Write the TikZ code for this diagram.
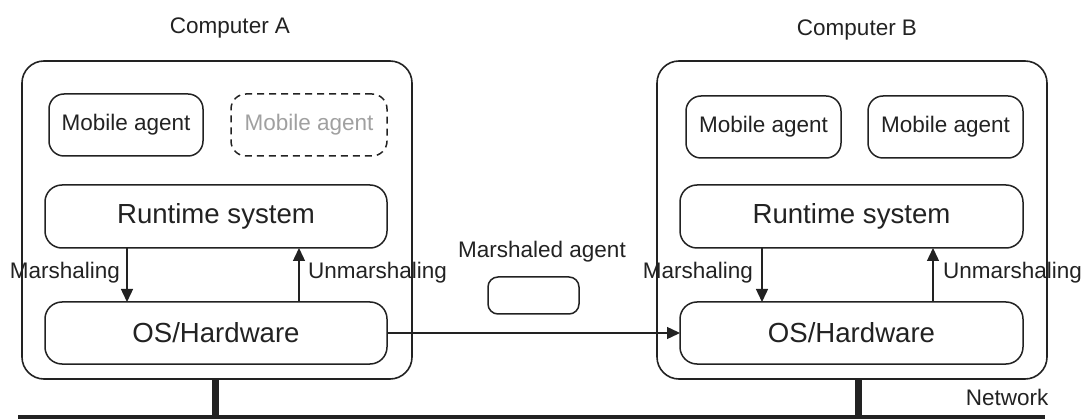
\documentclass[tikz,border=0pt]{standalone}
\usepackage{fontspec}
\setmainfont{Liberation Sans}
\usetikzlibrary{arrows.meta}
\definecolor{ink}{HTML}{222222}
\definecolor{ghost}{HTML}{A0A0A0}
\begin{document}
\begin{tikzpicture}[x=1pt,y=-1pt,
  every node/.style={inner sep=0pt, outer sep=0pt, text=ink},
  computer/.style={draw=ink, line width=1.6pt, rounded corners=22pt, minimum width=390pt, minimum height=318pt},
  agentbox/.style={draw=ink, line width=1.5pt, rounded corners=15pt, minimum width=155pt, minimum height=62pt, font=\fontsize{22.5}{27}\selectfont},
  layerbox/.style={draw=ink, line width=1.5pt, rounded corners=17pt, minimum width=342pt, minimum height=62pt, font=\fontsize{27.6}{33}\selectfont},
  lbl/.style={font=\fontsize{22.5}{27}\selectfont},
  conn/.style={draw=ink, line width=1.4pt, -{Triangle[length=13pt,width=12pt]}},
  net/.style={draw=ink, line width=7pt}
]
\useasboundingbox (0,0) rectangle (1086,419);

\node[lbl] (titleA) at (230,28) {Computer A};
\node[lbl] (titleB) at (857,30) {Computer B};

\node[computer] (compA) at (217,220) {};
\node[computer] (compB) at (852,220) {};

\node[agentbox, minimum width=154pt] (maA) at (126,125) {Mobile agent};
\node[agentbox, minimum width=156pt, dash pattern=on 7pt off 5pt, text=ghost] (maG) at (309,125) {Mobile agent};
\node[agentbox] (maB1) at (763.5,127) {Mobile agent};
\node[agentbox] (maB2) at (945.5,127) {Mobile agent};

\node[layerbox, minimum height=63pt] (rtA) at (216,216.5) {Runtime system};
\node[layerbox] (osA) at (216,333) {OS/Hardware};
\node[layerbox, minimum width=343pt, minimum height=63pt] (rtB) at (851.5,216.5) {Runtime system};
\node[layerbox, minimum width=343pt] (osB) at (851.5,333) {OS/Hardware};

\node[lbl] (marA) at (65,273) {Marshaling};
\node[lbl] (unA) at (377.5,273) {Unmarshaling};
\node[lbl] (marB) at (698,273) {Marshaling};
\node[lbl] (unB) at (1012.5,273) {Unmarshaling};

\draw[conn] (rtA.south -| 127,0) -- (osA.north -| 127,0);
\draw[conn] (osA.north -| 299,0) -- (rtA.south -| 299,0);
\draw[conn] (rtB.south -| 762,0) -- (osB.north -| 762,0);
\draw[conn] (osB.north -| 933,0) -- (rtB.south -| 933,0);

\node[lbl] (mtext) at (542,252) {Marshaled agent};
\node[draw=ink, line width=1.5pt, rounded corners=10pt, minimum width=91pt, minimum height=37pt] (mbox) at (533.5,295.5) {};

\draw[conn] (osA.east) -- (osB.west);

\coordinate (netL) at (18,418);
\coordinate (netR) at (1045,418);
\draw[net, line cap=butt] (netL) -- (netR);
\draw[net] (compA.south -| 215.5,0) -- (215.5,415);
\draw[net] (compB.south -| 858.5,0) -- (858.5,415);
\node[lbl] (netlbl) at (1007,397) {Network};
\end{tikzpicture}
\end{document}
